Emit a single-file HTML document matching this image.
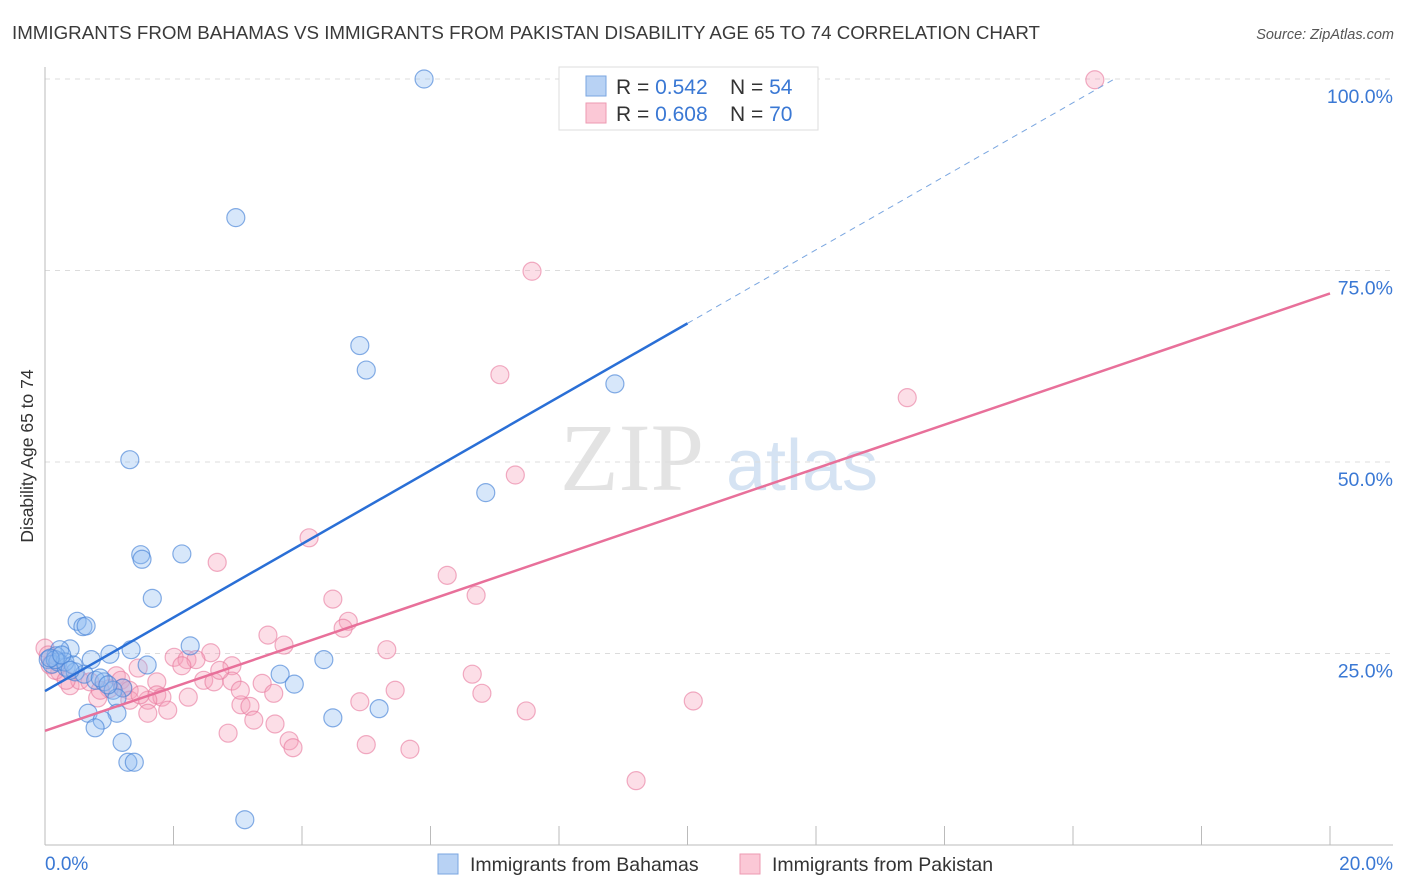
<!DOCTYPE html>
<html><head><meta charset="utf-8"><style>
body{margin:0;background:#fff;font-family:"Liberation Sans",sans-serif;}
</style></head><body>
<svg id="chart" width="1406" height="892" xmlns="http://www.w3.org/2000/svg" style="display:block">
<text x="12" y="39" font-size="18.2" fill="#3a3a3a" textLength="1028" lengthAdjust="spacingAndGlyphs">IMMIGRANTS FROM BAHAMAS VS IMMIGRANTS FROM PAKISTAN DISABILITY AGE 65 TO 74 CORRELATION CHART</text>
<text x="1394" y="39" font-size="14.5" fill="#555" text-anchor="end" font-style="italic">Source: ZipAtlas.com</text>
<text transform="translate(33,456) rotate(-90)" font-size="17.5" fill="#333" text-anchor="middle">Disability Age 65 to 74</text>
<g>
<text x="632" y="490" font-size="96" font-family="Liberation Serif,serif" fill="#e3e3e3" text-anchor="middle">ZIP</text>
<text x="802" y="490" font-size="72" fill="#d5e3f3" text-anchor="middle">atlas</text>
</g>
<g id="grid"></g><g id="axes"></g><g id="pts"></g><g id="lines"></g>
<g>
<rect x="559" y="67" width="259" height="63" fill="#fff" stroke="#ddd"/>
<rect x="586" y="76" width="20" height="20" fill="#b8d2f4" stroke="#7aa6e0"/>
<rect x="586" y="103" width="20" height="20" fill="#fbc8d6" stroke="#ec9ab2"/>
<text x="616" y="94" font-size="21" fill="#333">R = <tspan fill="#3a78d4">0.542</tspan><tspan x="730">N = </tspan><tspan fill="#3a78d4">54</tspan></text>
<text x="616" y="121" font-size="21" fill="#333">R = <tspan fill="#3a78d4">0.608</tspan><tspan x="730">N = </tspan><tspan fill="#3a78d4">70</tspan></text>
</g>
<g>
<rect x="438" y="854" width="20" height="20" fill="#b8d2f4" stroke="#7aa6e0"/>
<text x="470" y="871" font-size="19.5" fill="#333">Immigrants from Bahamas</text>
<rect x="740" y="854" width="20" height="20" fill="#fbc8d6" stroke="#ec9ab2"/>
<text x="772" y="871" font-size="19.5" fill="#333">Immigrants from Pakistan</text>
</g>
</svg>
<script>
const blueX=[5.90,2.97,4.90,5.00,8.87,1.32,6.86,1.49,1.51,2.13,1.67,0.50,0.59,0.64,2.26,1.34,0.39,1.01,0.23,0.17,0.05,0.11,0.20,0.72,1.59,0.33,0.47,0.61,0.79,0.92,1.21,1.06,3.66,4.34,3.88,1.12,0.67,1.12,0.89,0.78,1.20,1.29,1.39,4.48,5.20,3.11,0.31,0.16,0.08,0.44,0.86,0.98,0.26,0.39];
const blueY=[100.0,81.9,65.2,62.0,60.2,50.3,46.0,37.9,37.3,38.0,32.2,29.2,28.5,28.6,26.0,25.5,25.6,24.9,25.5,24.7,24.2,23.6,23.9,24.2,23.5,23.2,22.6,22.3,21.5,21.3,20.5,20.2,22.3,24.2,21.0,19.2,17.2,17.2,16.3,15.3,13.4,10.8,10.8,16.6,17.8,3.3,23.9,24.2,24.4,23.5,21.8,20.9,24.8,22.8];
const pinkX=[16.34,7.58,7.08,13.42,7.32,4.11,2.68,6.26,6.71,4.48,4.72,4.64,3.47,3.72,5.32,2.58,2.01,2.21,2.35,2.13,6.65,2.91,1.45,1.11,1.18,1.74,1.21,1.31,2.47,2.63,3.38,2.91,3.56,5.45,6.80,1.00,1.74,1.82,2.23,1.60,4.90,0.82,3.05,3.19,7.49,10.09,1.91,1.60,3.58,2.85,3.80,3.86,5.00,5.68,9.20,0.00,0.05,0.08,0.23,0.39,0.54,0.16,0.70,0.86,1.32,3.04,3.25,2.72,0.33,1.48];
const pinkY=[99.9,74.9,61.4,58.4,48.3,40.1,36.9,35.2,32.6,32.1,29.2,28.3,27.4,26.1,25.5,25.1,24.5,24.2,24.2,23.4,22.3,23.4,23.1,22.1,21.5,21.3,20.5,20.2,21.5,21.3,21.1,21.4,19.8,20.2,19.8,20.4,19.6,19.3,19.3,18.9,18.7,19.2,18.3,18.1,17.5,18.8,17.6,17.2,15.8,14.6,13.6,12.7,13.1,12.5,8.4,25.7,24.8,23.5,22.6,20.8,21.5,22.8,21.3,20.2,18.9,20.2,16.3,22.8,21.5,19.6];
const blueFit=[20.1,68.1]; // y at x=0 and x=10
const pinkFit=[14.9,72.0]; // y at x=0 and x=20
const yTicks=[25,50,75,100];
const xTickVals=[0,2,4,6,8,10,12,14,16,18,20];

const NS="http://www.w3.org/2000/svg";
const sx=v=>45+v*64.25;
const sy=v=>845-v*7.66;
function mk(tag,attrs,parent){const e=document.createElementNS(NS,tag);for(const k in attrs)e.setAttribute(k,attrs[k]);document.getElementById(parent).appendChild(e);return e;}

yTicks.forEach(t=>{
  const l=mk('line',{x1:45,x2:1393,y1:sy(t),y2:sy(t),stroke:'#dcdcdc','stroke-dasharray':'5,5'},'grid');
  
  
  const tx=mk('text',{x:1393,y:sy(t)+24,'font-size':19.5,fill:'#3a78d4','text-anchor':'end'},'grid');
  tx.textContent=t.toFixed(1)+'%';
  
  
});
const ya=mk('line',{x1:45,x2:45,y1:67,y2:845,stroke:'#bbb'},'axes');


const xa=mk('line',{x1:45,x2:1393,y1:845,y2:845,stroke:'#bbb'},'axes');


xTickVals.forEach(v=>{
  const t=mk('line',{x1:sx(v),x2:sx(v),y1:826,y2:845,stroke:'#bbb'},'axes');
  
  
});
const xl0=mk('text',{x:45,y:870,'font-size':19,fill:'#3a78d4'},'axes');xl0.textContent='0.0%';


const xl1=mk('text',{x:1393,y:870,'font-size':19,fill:'#3a78d4','text-anchor':'end'},'axes');xl1.textContent='20.0%';



pinkX.forEach((x,i)=>{
  const c=mk('circle',{cx:sx(x),cy:sy(pinkY[i]),r:9,fill:'rgba(246,160,186,0.35)',stroke:'rgba(232,120,156,0.6)','stroke-width':1.2},'pts');
  
  
});
blueX.forEach((x,i)=>{
  const c=mk('circle',{cx:sx(x),cy:sy(blueY[i]),r:9,fill:'rgba(140,185,240,0.35)',stroke:'rgba(70,130,215,0.65)','stroke-width':1.2},'pts');
  
  
});
const bs=(blueFit[1]-blueFit[0])/10;
const bl=mk('line',{x1:sx(0),y1:sy(blueFit[0]),x2:sx(10),y2:sy(blueFit[1]),stroke:'#2a6fd6','stroke-width':2.5},'lines');


const xe=(100-blueFit[0])/bs;
const bd=mk('line',{x1:sx(10),y1:sy(blueFit[1]),x2:sx(xe),y2:sy(100),stroke:'#7aa6e0','stroke-width':1,'stroke-dasharray':'6,5'},'lines');


const pl=mk('line',{x1:sx(0),y1:sy(pinkFit[0]),x2:sx(20),y2:sy(pinkFit[1]),stroke:'#e8709a','stroke-width':2.5},'lines');


</script>
</body></html>
